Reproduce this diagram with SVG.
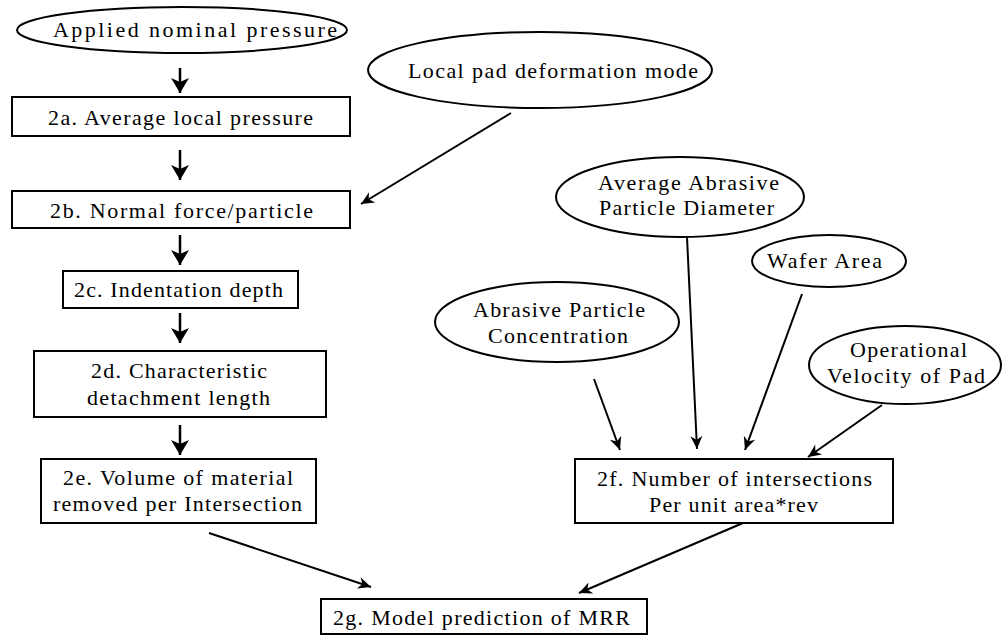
<svg xmlns="http://www.w3.org/2000/svg" width="1002" height="636" viewBox="0 0 1002 636">
<style>
.shape{fill:#fff;stroke:#000;stroke-width:2}
.t{font-family:"Liberation Serif","Times New Roman",serif;font-size:22px;fill:#000}
.c{fill:none;stroke:#000}
.v{stroke-width:2.5}
.d{stroke-width:2}
</style>
<defs>
<marker id="big" markerUnits="userSpaceOnUse" markerWidth="20" markerHeight="20" viewBox="-16 -10 17 20" refX="0" refY="0" orient="auto">
<path d="M0,0 L-15,-9 L-11,0 L-15,9 Z" fill="#000"/>
</marker>
<marker id="sm" markerUnits="userSpaceOnUse" markerWidth="16" markerHeight="14" viewBox="-14 -7 15 14" refX="0" refY="0" orient="auto">
<path d="M0,0 L-13,-6 L-9,0 L-13,6 Z" fill="#000"/>
</marker>
</defs>
<rect width="1002" height="636" fill="#fff"/>
<g id="connectors">
<line class="c v" x1="180" y1="68" x2="180" y2="93" marker-end="url(#big)"/>
<line class="c v" x1="180" y1="150" x2="180" y2="180" marker-end="url(#big)"/>
<line class="c v" x1="180" y1="235" x2="180" y2="265" marker-end="url(#big)"/>
<line class="c v" x1="180" y1="313" x2="180" y2="343" marker-end="url(#big)"/>
<line class="c v" x1="180" y1="425" x2="180" y2="455" marker-end="url(#big)"/>
<line class="c d" x1="511" y1="113" x2="361" y2="204" marker-end="url(#sm)"/>
<line class="c d" x1="687" y1="237" x2="697" y2="449" marker-end="url(#sm)"/>
<line class="c d" x1="802" y1="294" x2="745" y2="450" marker-end="url(#sm)"/>
<line class="c d" x1="594" y1="379" x2="620" y2="450" marker-end="url(#sm)"/>
<line class="c d" x1="882" y1="405" x2="808" y2="457" marker-end="url(#sm)"/>
<line class="c d" x1="209" y1="533" x2="371" y2="587" marker-end="url(#sm)"/>
<line class="c d" x1="743" y1="523" x2="579" y2="593" marker-end="url(#sm)"/>
</g>
<g id="applied">
<ellipse class="shape" cx="182" cy="30" rx="165" ry="23"/>
<text class="t" x="53" y="37" textLength="284" lengthAdjust="spacing">Applied nominal pressure</text>
</g>
<g id="localpad">
<ellipse class="shape" cx="540" cy="70" rx="172" ry="38"/>
<text class="t" x="408" y="78" textLength="290" lengthAdjust="spacing">Local pad deformation mode</text>
</g>
<g id="avgdiam">
<ellipse class="shape" cx="680" cy="197" rx="124" ry="40"/>
<text class="t" x="598" y="190" textLength="181" lengthAdjust="spacing">Average Abrasive</text>
<text class="t" x="599" y="215" textLength="175" lengthAdjust="spacing">Particle Diameter</text>
</g>
<g id="wafer">
<ellipse class="shape" cx="829" cy="261" rx="77" ry="26"/>
<text class="t" x="767" y="268" textLength="115" lengthAdjust="spacing">Wafer Area</text>
</g>
<g id="conc">
<ellipse class="shape" cx="557" cy="322" rx="122" ry="40"/>
<text class="t" x="473" y="317" textLength="172" lengthAdjust="spacing">Abrasive Particle</text>
<text class="t" x="488" y="343" textLength="140" lengthAdjust="spacing">Concentration</text>
</g>
<g id="oper">
<ellipse class="shape" cx="905" cy="365" rx="96" ry="39"/>
<text class="t" x="850" y="357" textLength="117" lengthAdjust="spacing">Operational</text>
<text class="t" x="827" y="383" textLength="158" lengthAdjust="spacing">Velocity of Pad</text>
</g>
<g id="n2a">
<rect class="shape" x="12" y="97" width="338" height="39"/>
<text class="t" x="48" y="125" textLength="265" lengthAdjust="spacing">2a. Average local pressure</text>
</g>
<g id="n2b">
<rect class="shape" x="12" y="191" width="338" height="37"/>
<text class="t" x="50" y="218" textLength="263" lengthAdjust="spacing">2b. Normal force/particle</text>
</g>
<g id="n2c">
<rect class="shape" x="63" y="271" width="235" height="37"/>
<text class="t" x="74" y="297" textLength="209" lengthAdjust="spacing">2c. Indentation depth</text>
</g>
<g id="n2d">
<rect class="shape" x="34" y="351" width="292" height="66"/>
<text class="t" x="91" y="378" textLength="176" lengthAdjust="spacing">2d. Characteristic</text>
<text class="t" x="87" y="405" textLength="183" lengthAdjust="spacing">detachment length</text>
</g>
<g id="n2e">
<rect class="shape" x="41" y="459" width="275" height="64"/>
<text class="t" x="63" y="485" textLength="230" lengthAdjust="spacing">2e. Volume of material</text>
<text class="t" x="53" y="511" textLength="249" lengthAdjust="spacing">removed per Intersection</text>
</g>
<g id="n2f">
<rect class="shape" x="575" y="459" width="318" height="64"/>
<text class="t" x="597" y="486" textLength="275" lengthAdjust="spacing">2f. Number of intersections</text>
<text class="t" x="649" y="512" textLength="169" lengthAdjust="spacing">Per unit area*rev</text>
</g>
<g id="n2g">
<rect class="shape" x="321" y="599" width="326" height="35"/>
<text class="t" x="333" y="625" textLength="297" lengthAdjust="spacing">2g. Model prediction of MRR</text>
</g>
</svg>
